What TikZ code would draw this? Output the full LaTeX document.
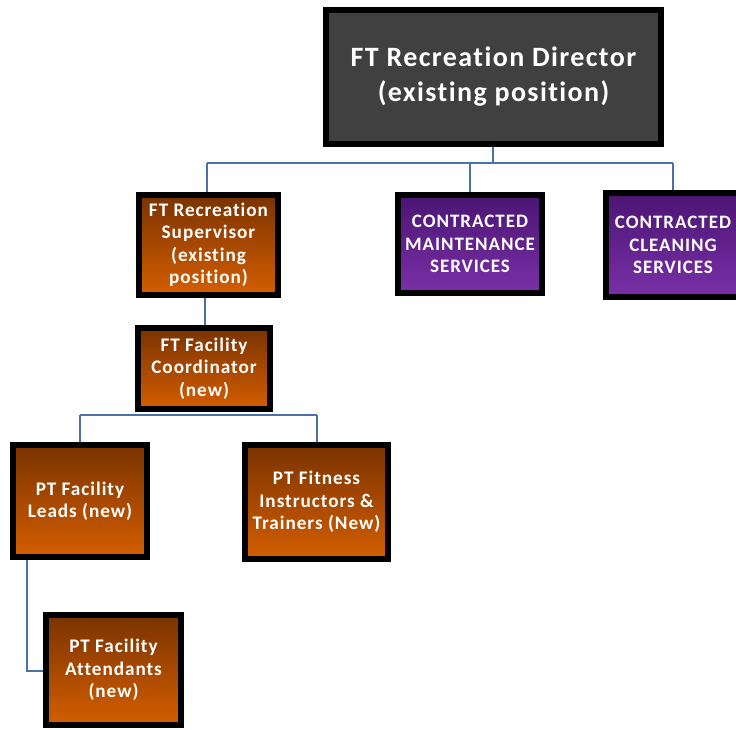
\documentclass[tikz,border=0pt]{standalone}
\usepackage{fontspec}
\setmainfont[LetterSpace=5,Ligatures=NoCommon]{Carlito}
\usetikzlibrary{shadings}
\definecolor{linkblue}{HTML}{4A72A8}
\definecolor{dirgray}{HTML}{404040}
\definecolor{orgtop}{HTML}{7A3300}
\definecolor{orgbot}{HTML}{D45E00}
\definecolor{purtop}{HTML}{4A1572}
\definecolor{purbot}{HTML}{7A30A8}
\tikzset{
  box/.style={draw=black, line width=6pt, inner sep=0pt, outer sep=0pt, align=center, text=white},
  orgbox/.style={box, top color=orgtop, bottom color=orgbot, font=\bfseries\fontsize{19.2}{22.5}\selectfont},
  purbox/.style={box, top color=purtop, bottom color=purbot, font=\bfseries\fontsize{19}{22.5}\selectfont},
  dirbox/.style={box, fill=dirgray, font=\bfseries\fontsize{28}{35}\selectfont},
  link/.style={draw=linkblue, line width=1.6pt}
}
\begin{document}
\begin{tikzpicture}[x=1pt,y=-1pt]
\useasboundingbox (0,0) rectangle (736,729);
% connectors
\coordinate (h1) at (493,163);
\coordinate (hl) at (207,163);
\coordinate (hm) at (470,163);
\coordinate (hr) at (673,163);
\coordinate (c2l) at (80,415);
\coordinate (c2r) at (317,415);
\coordinate (lk) at (27,671);
\draw[link] (493,147) -- (h1);
\draw[link] (hl) -- (hr);
\draw[link] (hl) -- (207,192);
\draw[link] (hm) -- (470,192);
\draw[link] (hr) -- (673,190);
\draw[link] (205,298) -- (205,325);
\draw[link] (c2l) -- (c2r);
\draw[link] (c2l) -- (80,442);
\draw[link] (c2r) -- (317,442);
\draw[link] (27,560) -- (lk) -- (43,671);
% nodes
\node[dirbox, minimum width=335pt, minimum height=134pt] (dir) at (493.5,77) {FT Recreation Director\\(existing position)};
\node[orgbox, minimum width=139pt, minimum height=100pt] (sup) at (208.5,245) {FT Recreation\\Supervisor\\(existing\\position)};
\node[purbox, minimum width=144pt, minimum height=98pt] (mnt) at (470,244) {CONTRACTED\\MAINTENANCE\\SERVICES};
\node[purbox, minimum width=134pt, minimum height=104pt] (cln) at (673,245) {CONTRACTED\\CLEANING\\SERVICES};
\node[orgbox, minimum width=132pt, minimum height=81pt] (crd) at (204,368.5) {FT Facility\\Coordinator\\(new)};
\node[orgbox, minimum width=134pt, minimum height=112pt] (lds) at (80,501) {PT Facility\\Leads (new)};
\node[orgbox, minimum width=143pt, minimum height=114pt] (fit) at (316.5,502) {PT Fitness\\Instructors \&\\Trainers (New)};
\node[orgbox, minimum width=135pt, minimum height=110pt] (att) at (113.5,670) {PT Facility\\Attendants\\(new)};
\end{tikzpicture}
\end{document}
